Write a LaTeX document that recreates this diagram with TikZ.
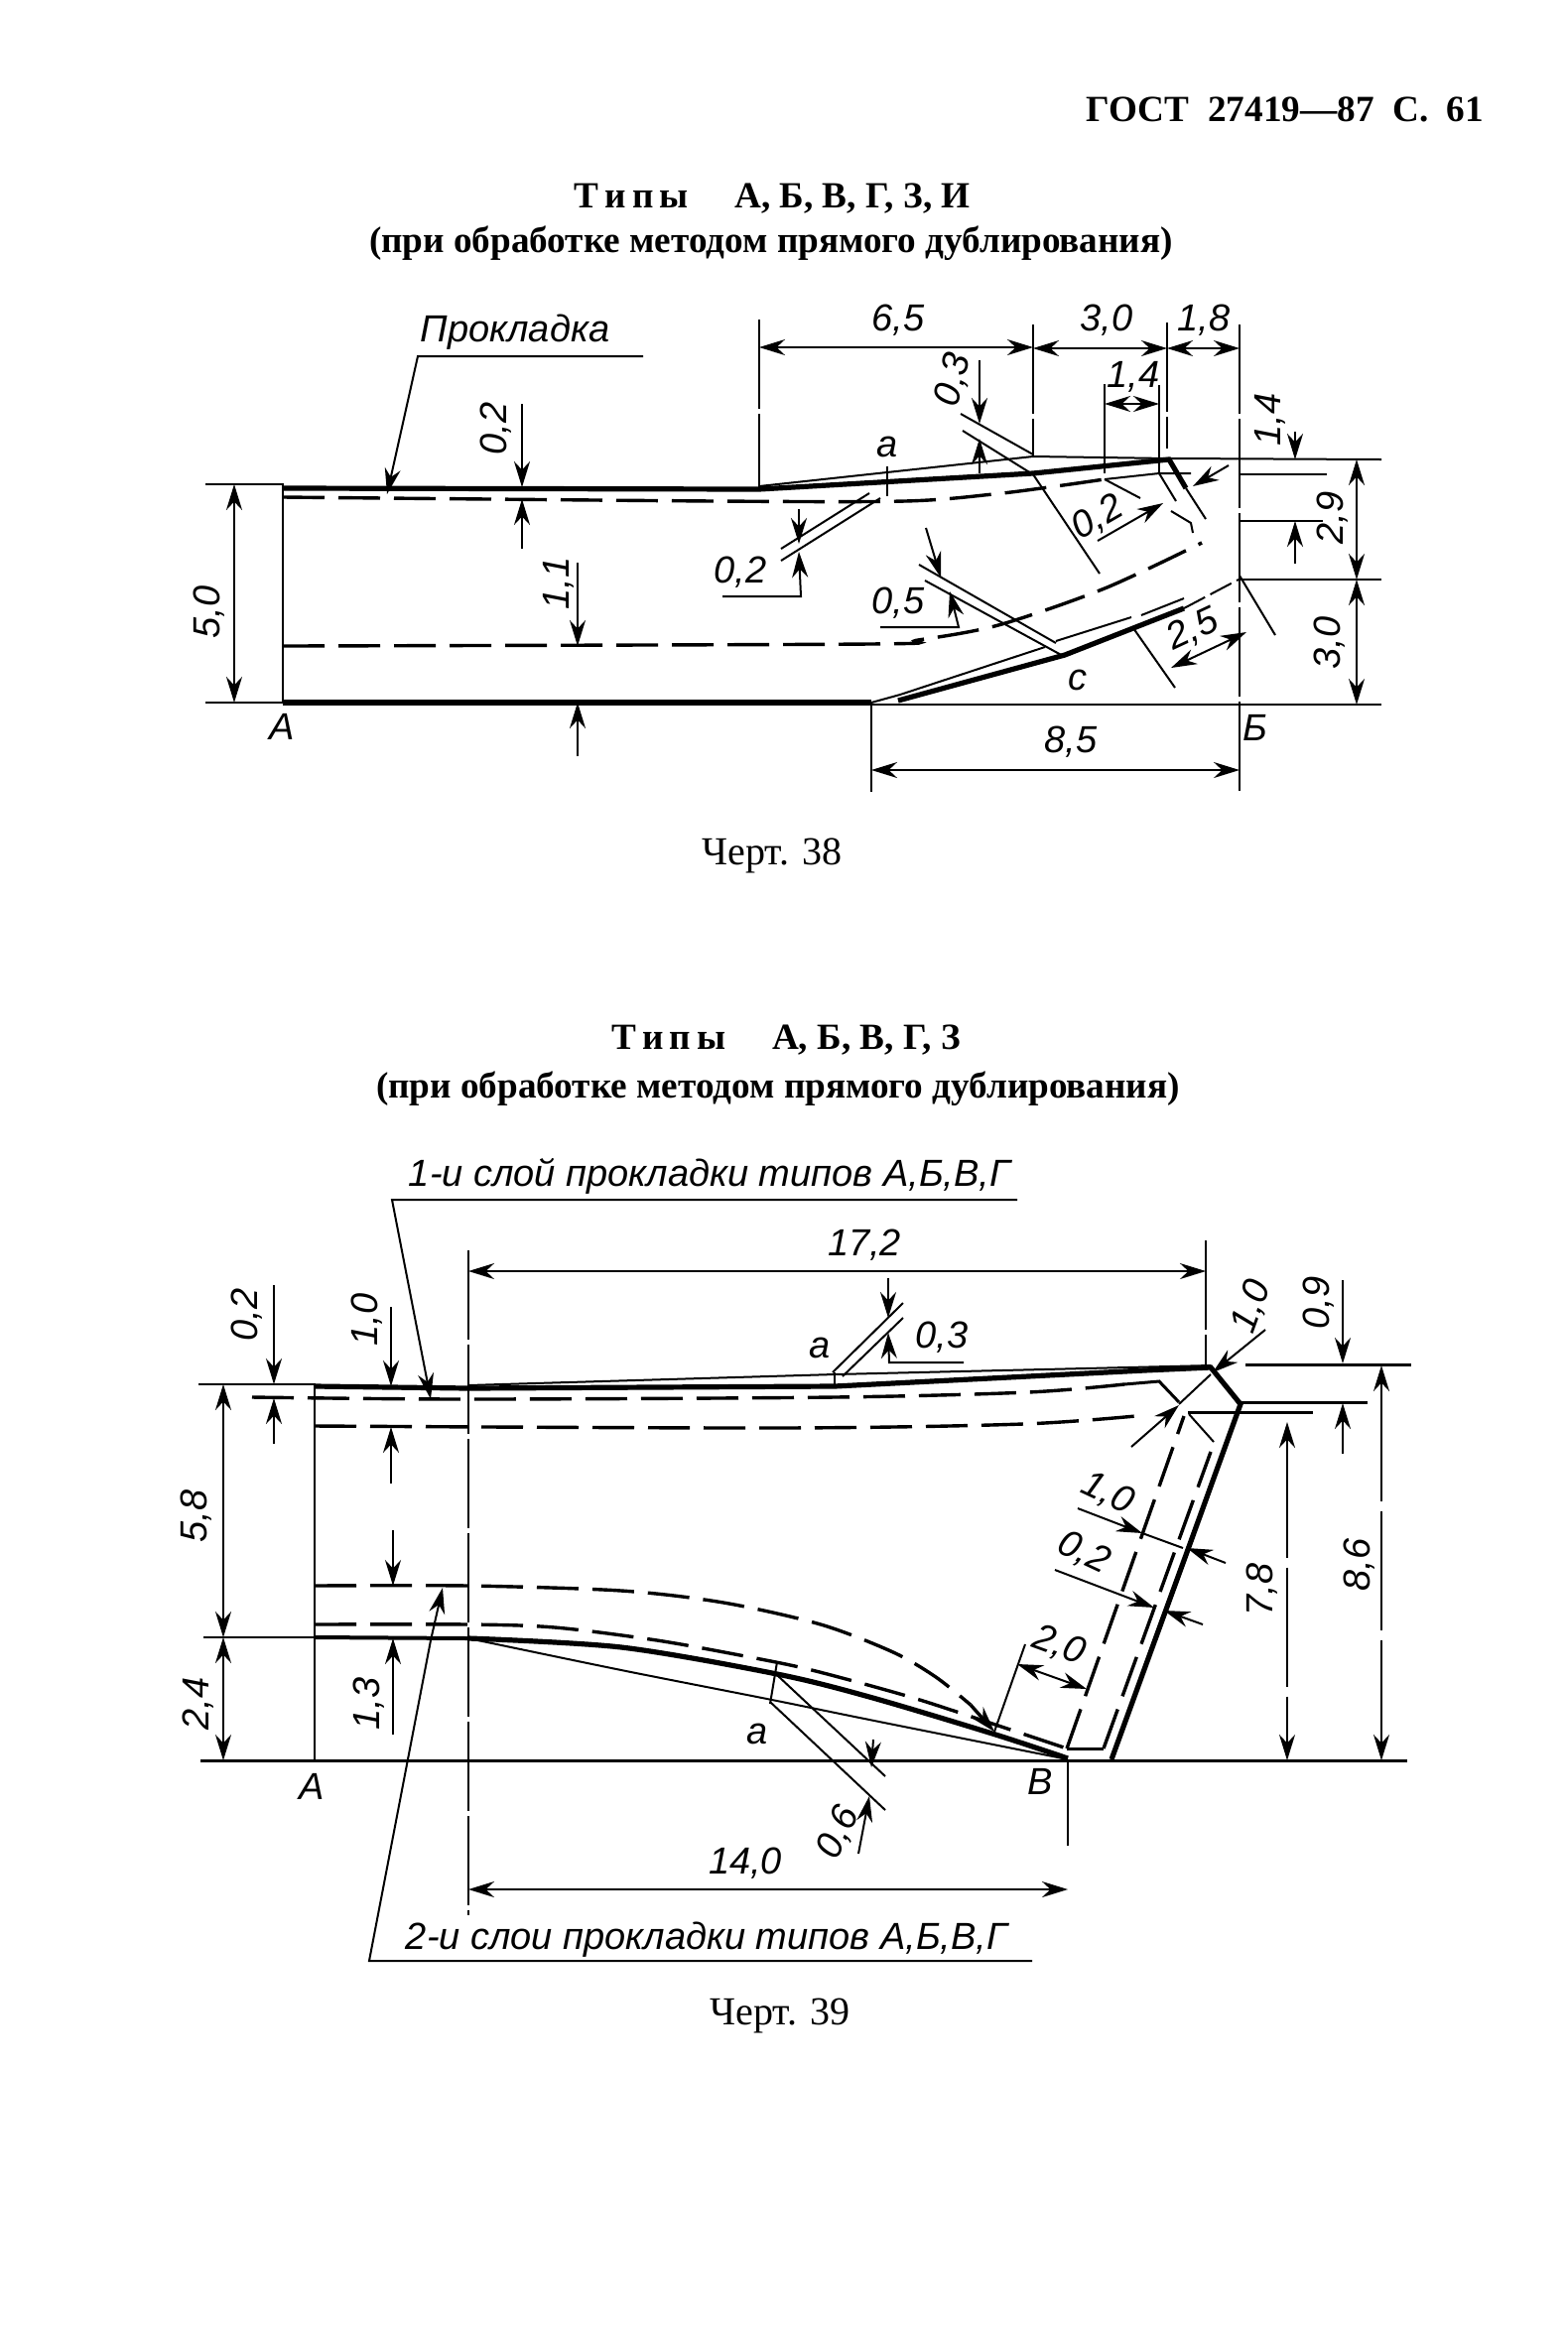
\documentclass[tikz,border=0pt]{standalone}
\usepackage{fontspec}
\setmainfont{Liberation Serif}
\newfontfamily\gostfont{Liberation Sans}
\usetikzlibrary{arrows.meta}
\tikzset{
  thinl/.style={line width=1pt},
  midl/.style={line width=1.5pt},
  boldl/.style={line width=2.6pt},
  dashl/.style={line width=1.7pt,dash pattern=on 21pt off 7pt},
  extl/.style={line width=.9pt,dash pattern=on 45pt off 2.5pt},
  dimto/.style={line width=1pt,-{Stealth[length=13pt,width=8pt]}},
  dimboth/.style={line width=1pt,{Stealth[length=13pt,width=8pt]}-{Stealth[length=13pt,width=8pt]}},
  lab/.style={font=\gostfont\itshape\fontsize{19}{19}\selectfont,inner sep=0pt},
  leadtext/.style={font=\gostfont\itshape\fontsize{19}{19}\selectfont,inner sep=0pt},
  headtext/.style={font=\bfseries\fontsize{18.6}{19}\selectfont,inner sep=0pt},
  captext/.style={font=\fontsize{20}{20}\selectfont,inner sep=0pt}
}
\begin{document}
\begin{tikzpicture}[x=.5pt,y=-.5pt]
\useasboundingbox (0,0) rectangle (1580,2346);
% page texts
\node[headtext] (pagehead) at (1295,110) {ГОСТ\ \ 27419—87\ \ С.\ \ 61};
\node[headtext] (type38) at (778,200) {Т\,и\,п\,ы\quad\ А, Б, В, Г, З, И};
\node[headtext] (sub38) at (777,245) {(при обработке методом прямого дублирования)};
\node[captext] (cap38) at (778,862) {Черт. 38};
\node[headtext] (type39) at (792,1048) {Т\,и\,п\,ы\quad\ А, Б, В, Г, З};
\node[headtext] (sub39) at (784,1097) {(при обработке методом прямого дублирования)};
\node[captext] (cap39) at (786,2031) {Черт. 39};

% ---- first drawing: contour
\draw[thinl] (207,488)--(285,488)--(285,708);
\draw[boldl] (285,492)--(765,493)--(1041,477)--(1178,463)--(1195,492);
\draw[thinl] (765,490)--(1041,460)--(1178,462)--(1392,463);
\draw[thinl] (1195,492)--(1215,523);
\draw[thinl] (207,708)--(285,708);
\draw[boldl] (285,708)--(878,708);
\draw[boldl] (905,706)--(1073,660)--(1193,613);
\draw[thinl,dash pattern=on 12pt off 3pt] (1193,613)--(1248,584);
\draw[thinl] (878,708)--(907,700)--(1053,652);
\draw[thinl] (1064,646)--(1140,622);
\draw[thinl] (1150,620)--(1193,603);
\draw[thinl] (878,710)--(1392,710);
% first drawing: dashed layers
\draw[dashl] plot[smooth] coordinates {(285,501) (720,505) (912,505) (1001,498) (1064,490) (1113,483)};
\draw[thinl] (1113,483)--(1168,477)--(1200,477);
\draw[thinl] (1168,477)--(1185,505);
\draw[dashl] plot[smooth] coordinates {(285,651) (876,649) (925,645) (1006,630) (1113,593) (1211,547)};
% first drawing: dimensions on top
\draw[extl] (765,322)--(765,493);
\draw[extl] (1041,327)--(1041,460);
\draw[extl] (1176,325)--(1176,452);
\draw[extl] (1249,327)--(1249,800);
\draw[dimboth] (765,350)--(1041,350);
\draw[dimboth] (1041,351)--(1176,351);
\draw[dimboth] (1176,351)--(1249,351);
\node[lab] (l65) at (905,323) {6,5};
\node[lab] (l30) at (1115,323) {3,0};
\node[lab] (l18) at (1213,323) {1,8};
\draw[extl] (1113,387)--(1113,480);
\draw[extl] (1168,388)--(1168,477);
\draw[dimboth] (1113,407)--(1168,407);
\node[lab] (l14) at (1142,380) {1,4};
% left dimensions
\draw[dimboth] (236,488)--(236,708);
\node[lab,rotate=90] (l50) at (211,617) {5,0};
\draw[dimto] (526,407)--(526,491);
\draw[dimto] (526,553)--(526,503);
\node[lab,rotate=90] (l02a) at (500,432) {0,2};
\draw[dimto] (582,567)--(582,651);
\draw[dimto] (582,762)--(582,708);
\node[lab,rotate=90] (l11) at (563,588) {1,1};
\node[lab] (lA) at (284,732) {А};
\node[leadtext] (lpad) at (519,335) {Прокладка};
\draw[dimto] (648,359)--(421,359)--(390,498);
% section a
\draw[extl] (894,470)--(894,500);
\node[lab] (la1) at (894,450) {а};
\draw[thinl] (876,497)--(787,553);
\draw[thinl] (887,502)--(787,565);
\draw[dimto] (805,513)--(805,548);
\draw[dimto] (728,601)--(807,601)--(805,556);
\node[lab] (l02b) at (746,577) {0,2};
% section top
\draw[thinl] (968,417)--(1041,458);
\draw[thinl] (970,434)--(1039,477);
\draw[dimto] (987,363)--(987,427);
\draw[dimto] (987,477)--(987,442);
\node[lab,rotate=75] (l03) at (961,383) {0,3};
\draw[thinl] (1041,478)--(1108,578);
\draw[thinl] (1113,483)--(1149,502);
\draw[dimto] (1106,545)--(1172,507);
\draw[dimto] (1238,469)--(1202,490);
\draw[thinl] (1180,515)--(1200,527)--(1202,537);
\node[lab,rotate=30] (l02c) at (1106,522) {0,2};
% section c
\draw[thinl] (926,569)--(1064,648);
\draw[thinl] (932,585)--(1073,662);
\draw[dimto] (933,532)--(948,582);
\draw[dimto] (887,632)--(966,632)--(957,596);
\node[lab] (l05) at (905,608) {0,5};
\node[lab] (lc) at (1086,685) {с};
\draw[thinl] (1249,580)--(1285,640);
\draw[thinl] (1142,633)--(1184,693);
\draw[dimboth] (1180,673)--(1256,637);
\node[lab,rotate=25] (l25) at (1202,635) {2,5};
% right dimensions
\draw[extl] (1249,478)--(1337,478);
\draw[extl] (1249,525)--(1333,525);
\draw[thinl] (1249,584)--(1392,584);
\draw[dimto] (1305,435)--(1305,463);
\draw[dimto] (1305,568)--(1305,525);
\node[lab,rotate=90] (l14b) at (1280,423) {1,4};
\draw[dimboth,dash pattern=on 60pt off 4pt] (1367,463)--(1367,584);
\node[lab,rotate=90] (l29) at (1343,522) {2,9};
\draw[dimboth,dash pattern=on 60pt off 4pt] (1367,584)--(1367,710);
\node[lab,rotate=90] (l30b) at (1340,648) {3,0};
% bottom dimension
\draw[extl] (878,708)--(878,800);
\draw[dimboth] (878,776)--(1249,776);
\node[lab] (l85) at (1079,748) {8,5};
\node[lab] (lB) at (1265,733) {Б};

% ---- second drawing: leaders
\node[leadtext] (llay1) at (715,1185) {1-и слой прокладки типов А,Б,В,Г};
\draw[dimto] (1025,1209)--(395,1209)--(434,1410);
\node[leadtext] (llay2) at (712,1955) {2-и слои прокладки типов А,Б,В,Г};
\draw[dimto] (1040,1976)--(372,1976)--(434,1653)--(446,1600);
% second drawing: contour
\draw[thinl] (200,1395)--(317,1395)--(317,1774);
\draw[boldl] (317,1397)--(472,1399)--(841,1397)--(1153,1381)--(1220,1378)--(1250,1415)--(1195,1567)--(1120,1773);
\draw[thinl] (472,1396)--(841,1385)--(1220,1376);
\draw[midl] (202,1774)--(1418,1774);
\draw[thinl] (205,1650)--(317,1650);
\draw[line width=2pt] (317,1650)--(472,1651);
\draw[boldl] plot[smooth] coordinates {(472,1651) (626,1660) (783,1687) (876,1710) (1000,1747) (1076,1772)};
\draw[thinl] plot[smooth] coordinates {(472,1651) (626,1683) (778,1713) (876,1733) (1076,1773)};
% second drawing: dashed layers
\draw[dashl] plot[smooth] coordinates {(254,1408) (472,1410) (841,1408) (1036,1403) (1133,1395)};
\draw[midl] (1133,1395)--(1168,1392)--(1188,1413);
\draw[dashl] plot[smooth] coordinates {(317,1437) (786,1439) (1031,1435) (1155,1426)};
\draw[dashl] plot[smooth] coordinates {(317,1598) (472,1598) (626,1603) (729,1615) (827,1637) (900,1665) (943,1690) (978,1718)};
\draw[dimto,line width=1.7pt] (978,1718)--(1002,1745);
\draw[dashl] plot[smooth] coordinates {(317,1637) (472,1637) (559,1640) (662,1653) (756,1670) (818,1683) (917,1710) (1000,1737) (1075,1762)};
\draw[midl] (1075,1762)--(1112,1762);
\draw[dashl] (1075,1762)--(1193,1427);
\draw[dashl] (1112,1762)--(1220,1463);
\draw[midl] (1197,1423)--(1323,1423);
\draw[midl] (1250,1413)--(1378,1413);
\draw[thinl] (1198,1425)--(1223,1453);
\draw[midl] (1255,1375)--(1422,1375);
% second drawing: dimensions
\draw[extl] (472,1260)--(472,1930);
\draw[extl] (1215,1250)--(1215,1378);
\draw[dimboth] (472,1281)--(1215,1281);
\node[lab] (l172) at (871,1255) {17,2};
\draw[dimboth] (225,1395)--(225,1650);
\node[lab,rotate=90] (l58) at (198,1528) {5,8};
\draw[dimboth] (225,1650)--(225,1774);
\node[lab,rotate=90] (l24) at (200,1717) {2,4};
\draw[dimto] (276,1295)--(276,1395);
\draw[dimto] (276,1455)--(276,1409);
\node[lab,rotate=90] (l02d) at (249,1325) {0,2};
\draw[dimto] (394,1317)--(394,1397);
\draw[dimto] (394,1495)--(394,1438);
\node[lab,rotate=90] (l10a) at (370,1330) {1,0};
\draw[dimto] (396,1542)--(396,1598);
\draw[dimto] (396,1748)--(396,1651);
\node[lab,rotate=90] (l13) at (372,1717) {1,3};
\node[lab] (lA2) at (314,1800) {А};
% upper section a
\draw[thinl] (841,1383)--(841,1397);
\draw[thinl] (839,1383)--(910,1313);
\draw[thinl] (849,1387)--(910,1328);
\draw[dimto] (895,1288)--(895,1328);
\draw[dimto] (971,1373)--(896,1373)--(895,1343);
\node[lab] (la2) at (826,1358) {а};
\node[lab] (l03b) at (949,1348) {0,3};
% lower section a
\draw[thinl] (783,1675)--(776,1717);
\draw[thinl] (783,1688)--(892,1790);
\draw[thinl] (776,1715)--(892,1824);
\draw[dimto] (880,1753)--(878,1781);
\draw[dimto] (865,1868)--(876,1810);
\node[lab] (la3) at (763,1747) {а};
\node[lab,rotate=65] (l06) at (845,1847) {0,6};
\draw[extl] (1076,1773)--(1076,1860);
\draw[dimboth] (472,1904)--(1076,1904);
\node[lab] (l140) at (751,1878) {14,0};
\node[lab] (lV) at (1048,1795) {В};
% corner
\draw[dimto] (1275,1340)--(1222,1383);
\draw[thinl] (1220,1385)--(1188,1415);
\draw[dimto] (1140,1458)--(1188,1416);
\node[lab,rotate=70] (l10b) at (1261,1317) {1,0};
\draw[dimto] (1353,1290)--(1353,1374);
\draw[dimto] (1353,1465)--(1353,1414);
\node[lab,rotate=90] (l09) at (1329,1313) {0,9};
% slant dimensions
\draw[dimto] (1086,1520)--(1151,1545);
\draw[thinl] (1151,1545)--(1192,1560);
\draw[dimto] (1235,1575)--(1196,1560);
\node[lab,rotate=-25] (l10c) at (1116,1505) {1,0};
\draw[dimto] (1063,1582)--(1163,1620);
\draw[dimto] (1212,1637)--(1173,1623);
\node[lab,rotate=-25] (l02e) at (1092,1565) {0,2};
\draw[thinl] (1033,1657)--(1002,1745);
\draw[dimboth] (1025,1677)--(1095,1702);
\node[lab,rotate=-20] (l20) at (1067,1658) {2,0};
% right dimensions
\draw[dimboth,dash pattern=on 60pt off 5pt] (1297,1433)--(1297,1774);
\node[lab,rotate=90] (l78) at (1272,1602) {7,8};
\draw[dimboth,dash pattern=on 60pt off 5pt] (1392,1376)--(1392,1774);
\node[lab,rotate=90] (l86) at (1370,1577) {8,6};
\end{tikzpicture}
\end{document}
